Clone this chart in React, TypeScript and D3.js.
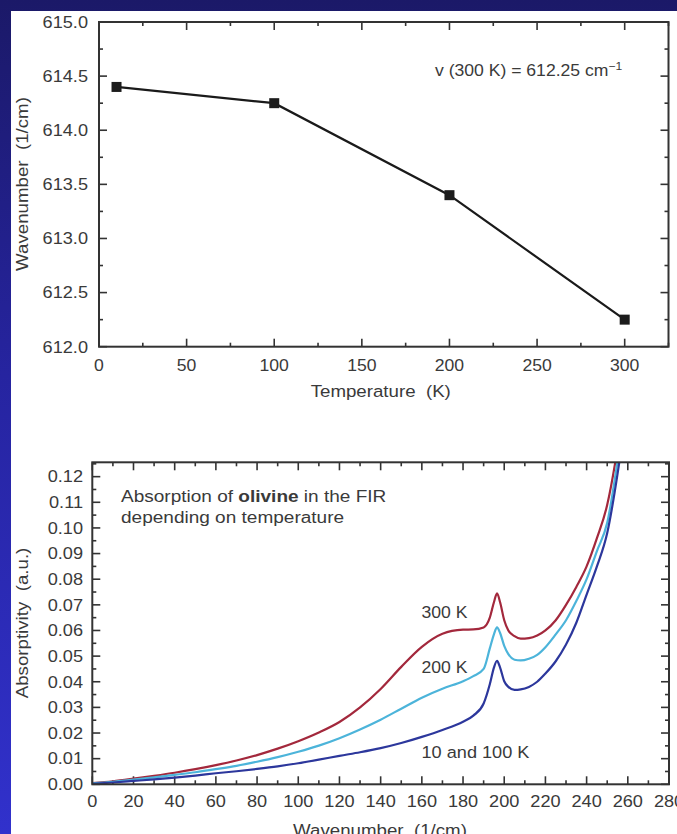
import React from "react";
import * as d3 from "d3";

// ---------- Top chart data ----------
const temperatureK = [10, 100, 200, 300];
const peakWavenumber = [614.4, 614.25, 613.4, 612.25];
const topXTicks = [0, 50, 100, 150, 200, 250, 300];
const topYTicks = [612.0, 612.5, 613.0, 613.5, 614.0, 614.5, 615.0];

// ---------- Bottom chart data ----------
const wavenumbers = [0, 10, 20, 30, 40, 50, 60, 70, 80, 90, 100, 110, 120, 130, 140, 150, 160, 170, 180, 185, 190, 193, 195, 196.5, 198, 200, 202, 205, 208, 212, 216, 220, 225, 230, 235, 240, 245, 250, 255, 260];
const abs300K = [0.0005, 0.0012, 0.0022, 0.0033, 0.0045, 0.0059, 0.0075, 0.0093, 0.0114, 0.0139, 0.0168, 0.0202, 0.0243, 0.0300, 0.0372, 0.0458, 0.0536, 0.0587, 0.0603, 0.0604, 0.0612, 0.0650, 0.0710, 0.0745, 0.0710, 0.0640, 0.0600, 0.0578, 0.0568, 0.0570, 0.0580, 0.0600, 0.0640, 0.0700, 0.0770, 0.0850, 0.0960, 0.1090, 0.1310, 0.1600];
const abs200K = [0.0004, 0.0010, 0.0018, 0.0027, 0.0037, 0.0047, 0.0059, 0.0072, 0.0088, 0.0106, 0.0127, 0.0151, 0.0180, 0.0214, 0.0252, 0.0295, 0.0338, 0.0373, 0.0402, 0.0422, 0.0450, 0.0530, 0.0585, 0.0612, 0.0590, 0.0540, 0.0508, 0.0486, 0.0483, 0.0490, 0.0505, 0.0535, 0.0585, 0.0640, 0.0715, 0.0800, 0.0910, 0.1020, 0.1260, 0.1550];
const abs10and100K = [0.0002, 0.0007, 0.0013, 0.0019, 0.0026, 0.0034, 0.0043, 0.0051, 0.0060, 0.0070, 0.0082, 0.0096, 0.0111, 0.0125, 0.0141, 0.0161, 0.0185, 0.0212, 0.0244, 0.0268, 0.0315, 0.0390, 0.0455, 0.0482, 0.0455, 0.0402, 0.0380, 0.0368, 0.0370, 0.0380, 0.0400, 0.0432, 0.0480, 0.0545, 0.0630, 0.0740, 0.0850, 0.0980, 0.1210, 0.1500];
const bottomXTicks = [0, 20, 40, 60, 80, 100, 120, 140, 160, 180, 200, 220, 240, 260, 280];
const bottomYTicks = [0, 0.01, 0.02, 0.03, 0.04, 0.05, 0.06, 0.07, 0.08, 0.09, 0.1, 0.11, 0.12];

const FONT = "'Liberation Sans', Arial, Helvetica, sans-serif";
const TXT = "#3a3a3a";
const AX = "#333";
const SX = 1.1;

function T({ x, y, anchor = "start", size = 16, rotate = 0, children }: any) {
  return (
    <g transform={`translate(${x},${y}) rotate(${rotate}) scale(${SX},1)`}>
      <text textAnchor={anchor} fontSize={size} fill={TXT} fontFamily={FONT}>
        {children}
      </text>
    </g>
  );
}

export default function App() {
  // top chart geometry
  const t = { l: 99, r: 668.5, t: 22, b: 346.7 };
  const tx = d3.scaleLinear().domain([0, 325]).range([t.l, t.r]);
  const ty = d3.scaleLinear().domain([612, 615]).range([t.b, t.t]);
  const topLine = d3.line<number>().x((d, i) => tx(temperatureK[i])).y((d) => ty(d));

  // bottom chart geometry
  const b = { l: 92.3, r: 669, t: 462.3, b: 784.3 };
  const bx = d3.scaleLinear().domain([0, 280]).range([b.l, b.r]);
  const by = d3.scaleLinear().domain([0, 0.1256]).range([b.b, b.t]);
  const curve = d3
    .line<number>()
    .x((d, i) => bx(wavenumbers[i]))
    .y((d) => by(d))
    .curve(d3.curveMonotoneX);

  const topXMinor = d3.range(0, 326, 25);
  const topYMinor = d3.range(612, 615.01, 0.25);
  const botXMinor = d3.range(0, 281, 10);
  const botYMinor = d3.range(0, 0.1251, 0.005);

  const series = [
    { v: abs300K, c: "#a3283c" },
    { v: abs200K, c: "#4cb4da" },
    { v: abs10and100K, c: "#2c379c" },
  ];

  return (
    <svg width={677} height={834} style={{ position: "absolute", left: 0, top: 0, display: "block" }}>
      <defs>
        <linearGradient id="bg" x1="0" y1="0" x2="0" y2="1">
          <stop offset="0%" stopColor="#1b1968" />
          <stop offset="45%" stopColor="#2624a0" />
          <stop offset="100%" stopColor="#3131cc" />
        </linearGradient>
        <clipPath id="clipB">
          <rect x={b.l} y={b.t} width={b.r - b.l} height={b.b - b.t} />
        </clipPath>
      </defs>
      <rect x={0} y={0} width={677} height={834} fill="url(#bg)" />
      <rect x={11} y={11} width={666} height={823} fill="#ffffff" />

      {/* ---------- TOP CHART ---------- */}
      <g stroke={AX} strokeWidth={1.6}>
        {topXMinor.map((v) => {
          const major = v % 50 === 0;
          const L = major ? 8 : 4;
          return (
            <g key={"tx" + v}>
              <line x1={tx(v)} x2={tx(v)} y1={t.b} y2={t.b - L} />
              <line x1={tx(v)} x2={tx(v)} y1={t.t} y2={t.t + L} />
            </g>
          );
        })}
        {topYMinor.map((v) => {
          const major = Math.abs(v * 2 - Math.round(v * 2)) < 1e-6;
          const L = major ? 8 : 4;
          return (
            <g key={"ty" + v}>
              <line x1={t.l} x2={t.l + L} y1={ty(v)} y2={ty(v)} />
              <line x1={t.r} x2={t.r - L} y1={ty(v)} y2={ty(v)} />
            </g>
          );
        })}
      </g>
      <rect x={t.l} y={t.t} width={t.r - t.l} height={t.b - t.t} fill="none" stroke={AX} strokeWidth={2} />
      {topXTicks.map((v) => (
        <T key={"txl" + v} x={tx(v)} y={371} anchor="middle" size={16}>
          {String(v)}
        </T>
      ))}
      {topYTicks.map((v) => (
        <T key={"tyl" + v} x={88} y={ty(v) + 5.8} anchor="end" size={16.5}>
          {v.toFixed(1)}
        </T>
      ))}
      <T x={(t.l + t.r) / 2 - 3} y={397} anchor="middle" size={17}>
        {"Temperature\u00a0 (K)"}
      </T>
      <g transform="translate(28,184) rotate(-90) scale(1.1,1)">
        <text textAnchor="middle" fontSize={17} fill={TXT} fontFamily={FONT}>
          {"Wavenumber\u00a0 (1/cm)"}
        </text>
      </g>
      <T x={435} y={76} size={16}>
        {"v (300 K) = 612.25 cm"}
        <tspan fontSize={11} dy={-6}>
          {"\u22121"}
        </tspan>
      </T>
      <path d={topLine(peakWavenumber) || ""} fill="none" stroke="#1a1a1a" strokeWidth={2.2} />
      {peakWavenumber.map((v, i) => (
        <rect key={"m" + i} x={tx(temperatureK[i]) - 5} y={ty(v) - 5} width={10} height={10} fill="#1c1c1c" />
      ))}

      {/* ---------- BOTTOM CHART ---------- */}
      <g stroke={AX} strokeWidth={1.6}>
        {botXMinor.map((v) => {
          const major = v % 20 === 0;
          const L = major ? 8 : 4;
          return (
            <g key={"bx" + v}>
              <line x1={bx(v)} x2={bx(v)} y1={b.b} y2={b.b - L} />
              <line x1={bx(v)} x2={bx(v)} y1={b.t} y2={b.t + L} />
            </g>
          );
        })}
        {botYMinor.map((v) => {
          const major = Math.abs(v * 100 - Math.round(v * 100)) < 1e-6;
          const L = major ? 8 : 4;
          return (
            <g key={"by" + v}>
              <line x1={b.l} x2={b.l + L} y1={by(v)} y2={by(v)} />
              <line x1={b.r} x2={b.r - L} y1={by(v)} y2={by(v)} />
            </g>
          );
        })}
      </g>
      <g clipPath="url(#clipB)">
        {series.map((s, i) => (
          <path key={"s" + i} d={curve(s.v) || ""} fill="none" stroke={s.c} strokeWidth={2.2} strokeLinejoin="round" />
        ))}
      </g>
      <rect x={b.l} y={b.t} width={b.r - b.l} height={b.b - b.t} fill="none" stroke={AX} strokeWidth={2} />
      {bottomXTicks.map((v) => (
        <T key={"bxl" + v} x={bx(v)} y={807} anchor="middle" size={16.5}>
          {String(v)}
        </T>
      ))}
      {bottomYTicks.map((v) => (
        <T key={"byl" + v} x={83} y={by(v) + 5.8} anchor="end" size={16.5}>
          {v.toFixed(2)}
        </T>
      ))}
      <T x={380} y={836} anchor="middle" size={17}>
        {"Wavenumber\u00a0 (1/cm)"}
      </T>
      <g transform="translate(28,623) rotate(-90) scale(1.1,1)">
        <text textAnchor="middle" fontSize={17} fill={TXT} fontFamily={FONT}>
          {"Absorptivity\u00a0 (a.u.)"}
        </text>
      </g>
      <T x={121} y={502} size={17.3}>
        {"Absorption of "}
        <tspan fontWeight="bold">olivine</tspan>
        {" in the FIR"}
      </T>
      <T x={121} y={523} size={17.3}>
        {"depending on temperature"}
      </T>
      <T x={421.5} y={618} size={16}>
        {"300 K"}
      </T>
      <T x={421.5} y={673} size={16}>
        {"200 K"}
      </T>
      <T x={421.5} y={758} size={16.5}>
        {"10 and 100 K"}
      </T>
    </svg>
  );
}
